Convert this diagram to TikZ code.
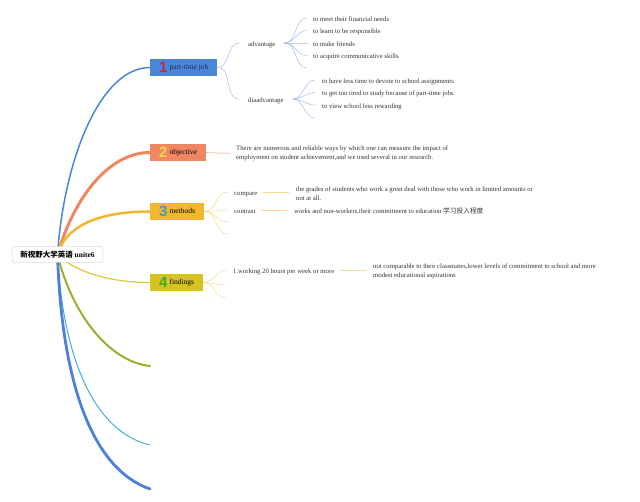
\documentclass[tikz,border=0pt]{standalone}
\usepackage{fontspec}
\setmainfont{Liberation Serif}
\newfontfamily\cjk{Noto Sans CJK SC}
\newfontfamily\numfont{Liberation Sans}
\usetikzlibrary{backgrounds,calc}
\definecolor{cBlue}{HTML}{4A86D8}
\definecolor{cOrange}{HTML}{EF8763}
\definecolor{cYellow}{HTML}{F1B82D}
\definecolor{cOlive}{HTML}{D5C41F}
\definecolor{cFindLine}{HTML}{DCC93A}
\definecolor{cGreen}{HTML}{9BAF2E}
\definecolor{cSky}{HTML}{42ABE2}
\definecolor{cBlueB}{HTML}{4D80D9}
\definecolor{cRed}{HTML}{C8283C}
\definecolor{cNumTwo}{HTML}{F8D847}
\definecolor{cNumThree}{HTML}{3C9AD0}
\definecolor{cNumFour}{HTML}{3DAA20}
\definecolor{cNavy}{HTML}{1A2A5A}
\definecolor{lBlue}{HTML}{A3BDEB}
\definecolor{lOrange}{HTML}{F5B8A0}
\definecolor{lYellow}{HTML}{F6D98C}
\definecolor{lOlive}{HTML}{E8E08C}
\definecolor{cText}{HTML}{333333}
\newcommand{\bignum}[2]{\raisebox{-3pt}{\numfont\bfseries\fontsize{15}{15}\selectfont\color{#1}#2}\hspace{2pt}}
\begin{document}
\begin{tikzpicture}[x=1pt,y=-1pt,
  leafbase/.style={font=\fontsize{6.7}{9}\selectfont, text=cText, inner xsep=6pt, inner ysep=1pt, anchor=west, align=left},
  leaf/.style={leafbase, text height=8.5pt, text depth=1.5pt},
  midnode/.style={leaf, inner xsep=9pt},
  topic/.style={font=\fontsize{7.5}{9}\selectfont, inner xsep=9pt, inner ysep=0pt, minimum height=17pt, anchor=west, text=black},
  mainline/.style={line cap=round},
  subline/.style={line width=0.5pt, line cap=round}
]
\useasboundingbox (0,0) rectangle (640,502);

% root
\node[draw=black!25, fill=white, rounded corners=3pt, minimum width=91pt, minimum height=16pt, inner sep=0pt,
      font=\fontsize{7.5}{9}\selectfont\bfseries] (root) at (57.5,254.5)
      {{\cjk\bfseries 新视野大学英语} unite6};

% topics
\node[topic, fill=cBlue, text=cNavy] (t1) at (150,67.5) {\bignum{cRed}{1}part-time job};
\node[topic, fill=cOrange] (t2) at (150,152.5) {\bignum{cNumTwo}{2}objective};
\node[topic, fill=cYellow] (t3) at (150,211.5) {\bignum{cNumThree}{3}methods};
\node[topic, fill=cOlive] (t4) at (150,282.5) {\bignum{cNumFour}{4}findings};
\coordinate (c5) at (150,366);
\coordinate (c6) at (150,445);
\coordinate (c7) at (150,489);

% main curves
\begin{scope}[on background layer]
\draw[mainline, cBlue, line width=1.5pt] (root.center) .. controls (64,160) and (100,67.5) .. (t1.west);
\draw[mainline, cOrange, line width=3pt] (root.center) .. controls (75,195) and (110,152.5) .. (t2.west);
\draw[mainline, cYellow, line width=2.5pt] (root.center) .. controls (65,228) and (95,211.5) .. (t3.west);
\draw[mainline, cFindLine, line width=1.2pt] (root.center) .. controls (75,272) and (110,282.5) .. (t4.west);
\draw[mainline, cGreen, line width=2pt] (root.center) .. controls (72,315) and (110,362) .. (c5);
\draw[mainline, cSky, line width=1pt] (root.center) .. controls (63,360) and (95,432) .. (c6);
\draw[mainline, cBlueB, line width=2.8pt] (root.center) .. controls (62,390) and (95,470) .. (c7);
\end{scope}

% part-time job
\node[midnode] (adv) at (239,43) {advantage};
\node[midnode] (dis) at (239,99) {diaadvantage};
\draw[subline, lBlue] (t1.east) to[out=0,in=180] (adv.west);
\draw[subline, lBlue] (t1.east) to[out=0,in=180] (dis.west);

\node[leaf] (a1) at (307,18) {to meet their financial needs};
\node[leaf] (a2) at (307,30.5) {to learn to be responsible};
\node[leaf] (a3) at (307,43) {to make friends};
\node[leaf] (a4) at (307,55.5) {to acquire communicative skills};
\coordinate (a5) at (307,68);
\foreach \n in {a1,a2,a3,a4}{\draw[subline, lBlue] (adv.east) to[out=0,in=180] (\n.west);}
\draw[subline, lBlue] (adv.east) to[out=0,in=180] (a5);

\node[leaf, inner xsep=7pt] (d1) at (315,80) {to have less time to devote to school assignments};
\node[leaf, inner xsep=7pt] (d2) at (315,92.5) {to get too tired to study because of part-time jobs};
\node[leaf, inner xsep=7pt] (d3) at (315,105) {to view school less rewarding};
\coordinate (d4) at (315,118);
\foreach \n in {d1,d2,d3}{\draw[subline, lBlue] (dis.east) to[out=0,in=180] (\n.west);}
\draw[subline, lBlue] (dis.east) to[out=0,in=180] (d4);

% objective
\node[leafbase, inner xsep=7pt] (objtext) at (229,153.5)
  {There are numerous and reliable ways by which one can measure the impact of\\
   employment on student achievement,and we used several in our research.};
\draw[subline, lOrange, line width=0.7pt] (t2.east) -- (objtext.west);

% methods
\node[leaf] (cmp) at (228,192) {compare};
\node[leaf] (ctr) at (228,210) {contrast};
\coordinate (m3) at (228,222);
\coordinate (m4) at (228,234);
\draw[subline, lYellow] (t3.east) to[out=0,in=180] (cmp.west);
\draw[subline, lYellow] (t3.east) to[out=0,in=180] (ctr.west);
\draw[subline, lYellow] (t3.east) to[out=0,in=180] (m3);
\draw[subline, lYellow] (t3.east) to[out=0,in=180] (m4);
\node[leafbase, inner xsep=7pt] (grades) at (289,193.5)
  {the grades of students who work a great deal with those who work in limited amounts or\\
   not at all.};
\node[leaf, inner xsep=7pt] (works) at (287,210)
  {works and non-workers,their commitment to education {\cjk 学习投入程度}};
\draw[subline, lYellow, line width=0.8pt] (cmp.east) -- (grades.west |- cmp.east);
\draw[subline, lYellow, line width=0.8pt] (ctr.east) -- (works.west);

% findings
\node[leaf] (f1) at (227,270) {1.working 20 hours per week or more};
\coordinate (f2) at (226,285);
\coordinate (f3) at (226,298);
\draw[subline, lOlive] (t4.east) to[out=0,in=180] (f1.west);
\draw[subline, lOlive] (t4.east) to[out=0,in=180] (f2);
\draw[subline, lOlive] (t4.east) to[out=0,in=180] (f3);
\node[leafbase, inner xsep=7pt] (notc) at (366,271.5)
  {not comparable to their classmates,lower levels of commitment to school and more\\
   modest educational aspirations};
\draw[subline, lOlive, line width=0.8pt] (f1.east) -- (notc.west |- f1.east);
\end{tikzpicture}
\end{document}
